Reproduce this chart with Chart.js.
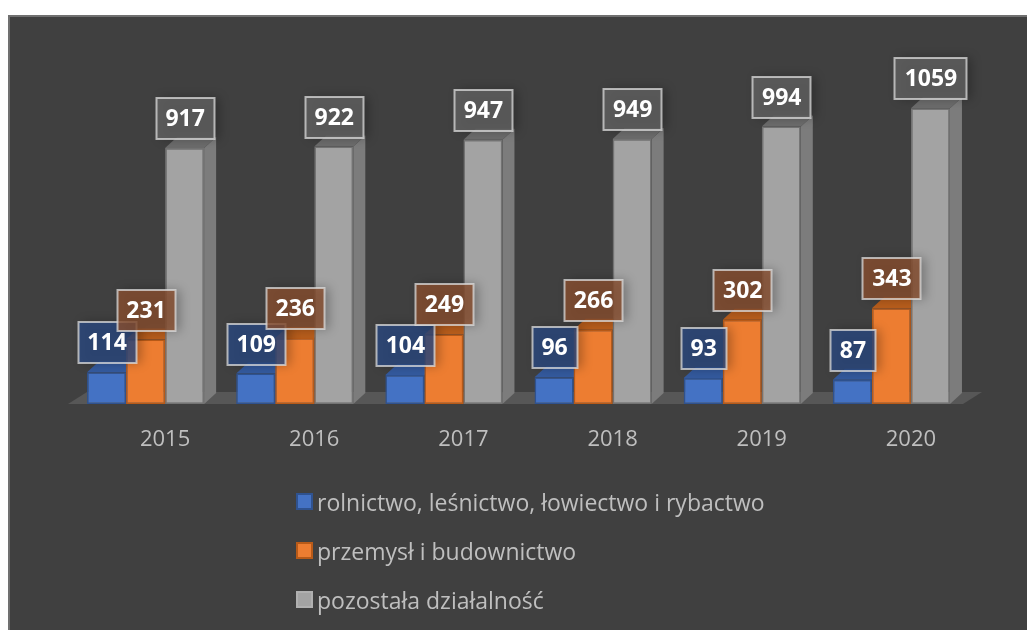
<!DOCTYPE html>
<html>
<head>
<meta charset="utf-8">
<script src="https://cdn.jsdelivr.net/npm/chart.js@4.4.1/dist/chart.umd.min.js"></script>
<style>
  body { margin: 0; width: 1027px; height: 630px; overflow: hidden; position: relative; background: #fff; font-family: 'Open Sans', sans-serif; }
  #panel { position: absolute; left: 8px; top: 15px; right: 0; bottom: 0; background: #404040; border-left: 2px solid #707070; border-top: 2px solid #707070; }
  #wrap { position: absolute; left: 0; top: 0; width: 1027px; height: 480px; }
  #legend { position: absolute; left: 296px; top: 477px; margin: 0; padding: 0; list-style: none; }
  #legend li { height: 49px; display: flex; align-items: center; font-size: 23px; color: #bfbfbf; }
  #legend span.box { width: 13px; height: 13px; margin-right: 4px; border: 2px solid; }
</style>
</head>
<body>
<div id="panel"></div>
<div id="wrap"><canvas id="chart"></canvas></div>
<ul id="legend"></ul>
<script>
// dane
const years = ['2015', '2016', '2017', '2018', '2019', '2020'];
const seriesNames = ['rolnictwo, leśnictwo, łowiectwo i rybactwo', 'przemysł i budownictwo', 'pozostała działalność'];
const rolnictwo = [114, 109, 104, 96, 93, 87];
const przemysl = [231, 236, 249, 266, 302, 343];
const pozostala = [917, 922, 947, 949, 994, 1059];

// kolory: przód, krawędź, góra, bok, etykieta
const frontColors = ['#4472c4', '#ed7d31', '#a3a3a3'];
const edgeColors = ['#2f528f', '#b85a18', '#737373'];
const topColors = ['#345a9e', '#b75d1c', '#6c6c6c'];
const sideColors = ['#2f528f', '#a9561b', '#7c7c7c'];
const labelFills = ['rgba(43,72,128,0.8)', 'rgba(136,79,48,0.8)', 'rgba(97,97,97,0.8)'];

const DX = 12, DY = 11;

function poly(ctx, pts) {
  ctx.beginPath();
  ctx.moveTo(pts[0][0], pts[0][1]);
  for (let i = 1; i < pts.length; i++) ctx.lineTo(pts[i][0], pts[i][1]);
  ctx.closePath();
  ctx.fill();
}

// podłoga i ściany 3D słupków (rysowane przed przodem słupków)
const bars3d = {
  id: 'bars3d',
  beforeDatasetsDraw(chart) {
    const ctx = chart.ctx;
    const area = chart.chartArea;
    const base = chart.scales.y.getPixelForValue(0);
    ctx.save();
    ctx.fillStyle = '#575757';
    poly(ctx, [[area.left - 3, base], [area.right - 3, base], [area.right + 16, base - 12], [area.left + 16, base - 12]]);
    chart.data.datasets.forEach((ds, i) => {
      chart.getDatasetMeta(i).data.forEach(bar => {
        const p = bar.getProps(['x', 'y', 'width'], true);
        const l = p.x - p.width / 2, r = p.x + p.width / 2;
        ctx.fillStyle = sideColors[i];
        poly(ctx, [[r, p.y], [r + DX, p.y - DY], [r + DX, base - DY], [r, base]]);
        ctx.fillStyle = topColors[i];
        poly(ctx, [[l, p.y], [r, p.y], [r + DX, p.y - DY], [l + DX, p.y - DY]]);
      });
    });
    ctx.restore();
  }
};

// etykiety z wartościami w ramkach
const valueBoxes = {
  id: 'valueBoxes',
  afterDatasetsDraw(chart) {
    const ctx = chart.ctx;
    ctx.save();
    ctx.font = 'bold 23px "Open Sans"';
    ctx.textAlign = 'center';
    ctx.textBaseline = 'middle';
    chart.data.datasets.forEach((ds, i) => {
      chart.getDatasetMeta(i).data.forEach((bar, j) => {
        const p = bar.getProps(['x', 'y'], true);
        const txt = String(ds.data[j]);
        const w = Math.round(ctx.measureText(txt).width + 19);
        const h = 41;
        const bx = Math.round(p.x - w / 2) + 0.5, by = Math.round(p.y - 9 - h);
        ctx.shadowColor = 'rgba(0,0,0,0.35)';
        ctx.shadowBlur = 10;
        ctx.shadowOffsetX = 4;
        ctx.fillStyle = labelFills[i];
        ctx.fillRect(bx, by, w, h);
        ctx.shadowColor = 'transparent';
        ctx.strokeStyle = 'rgba(220,220,220,0.75)';
        ctx.lineWidth = 2;
        ctx.strokeRect(bx, by, w, h);
        ctx.fillStyle = '#ffffff';
        ctx.fillText(txt, p.x + 0.5, by + h / 2 + 1);
      });
    });
    ctx.restore();
  }
};

Chart.defaults.font.family = "'Open Sans', sans-serif";

const chart = new Chart(document.getElementById('chart'), {
  type: 'bar',
  data: {
    labels: years,
    datasets: [rolnictwo, przemysl, pozostala].map((vals, i) => ({
      label: seriesNames[i],
      data: vals,
      backgroundColor: frontColors[i],
      borderColor: edgeColors[i],
      borderWidth: 1.5,
      borderSkipped: false,
      categoryPercentage: 0.785,
      barPercentage: 1.0
    }))
  },
  options: {
    responsive: true,
    maintainAspectRatio: false,
    animation: false,
    layout: { padding: { left: 71, right: 61, top: 69, bottom: 0 } },
    plugins: { legend: { display: false }, tooltip: { enabled: false } },
    scales: {
      x: {
        grid: { display: false, drawTicks: false },
        border: { display: false },
        ticks: { color: '#bfbfbf', font: { size: 22 }, padding: 23, labelOffset: 19.5 },
        afterFit(scale) { scale.height = 76; }
      },
      y: { display: false, min: 0, max: 1200 }
    }
  },
  plugins: [bars3d, valueBoxes]
});

// legenda pod wykresem
const legend = document.getElementById('legend');
chart.data.datasets.forEach((ds, i) => {
  const li = document.createElement('li');
  const box = document.createElement('span');
  box.className = 'box';
  box.style.background = ds.backgroundColor;
  box.style.borderColor = i === 2 ? '#b0b0b0' : ds.borderColor;
  li.appendChild(box);
  li.appendChild(document.createTextNode(ds.label));
  legend.appendChild(li);
});
</script>
</body>
</html>
